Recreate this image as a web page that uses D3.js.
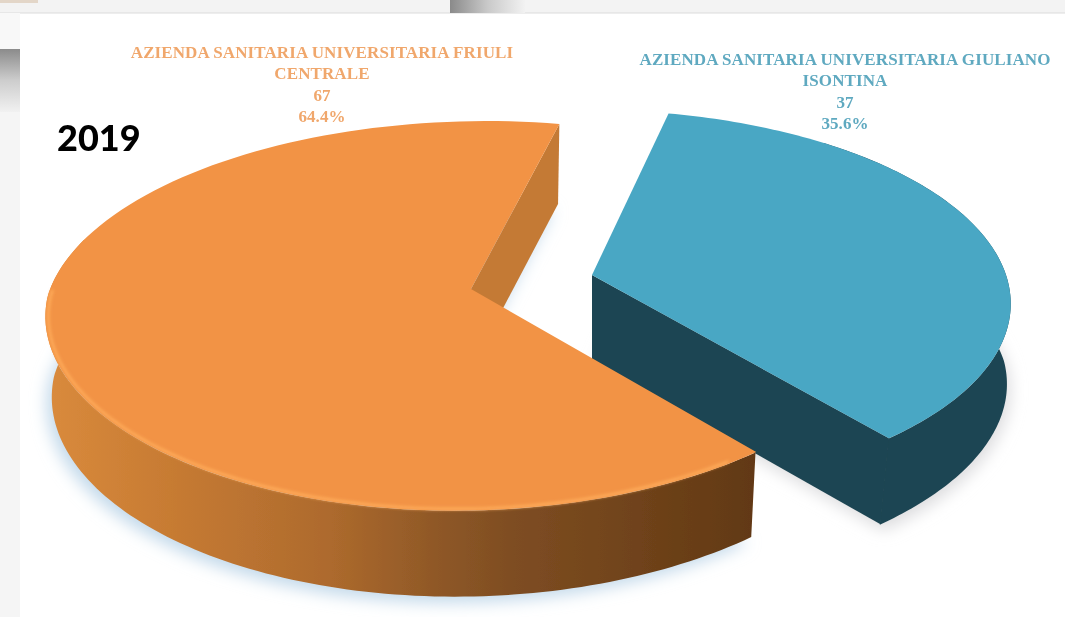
<!DOCTYPE html>
<html><head><meta charset="utf-8">
<script src="https://cdn.jsdelivr.net/npm/d3@7"></script>
<style>html,body{margin:0;padding:0;background:#fff;overflow:hidden}svg{display:block}</style>
</head><body><div id="chart"></div>
<script>
const categories = ["AZIENDA SANITARIA UNIVERSITARIA GIULIANO ISONTINA", "AZIENDA SANITARIA UNIVERSITARIA FRIULI CENTRALE"];
const labelLines = [["AZIENDA SANITARIA UNIVERSITARIA GIULIANO", "ISONTINA"], ["AZIENDA SANITARIA UNIVERSITARIA FRIULI", "CENTRALE"]];
const values = [37, 67];
const percents = ["35.6%", "64.4%"];
const yearLabel = "2019";

const W = 1065, H = 617;
const deg = Math.PI / 180;
const svg = d3.select("#chart").append("svg").attr("width", W).attr("height", H).attr("viewBox", [0, 0, W, H]);
const defs = svg.append("defs");
const blur = (id, s) => defs.append("filter").attr("id", id).attr("x", "-20%").attr("y", "-20%").attr("width", "140%").attr("height", "140%")
  .append("feGaussianBlur").attr("stdDeviation", s);
blur("shadow", 8); blur("soft", 0.7); blur("hl", 1.4); blur("ink", 0.55);
const grad = (id, x1, x2, stops) => {
  const g = defs.append("linearGradient").attr("id", id).attr("gradientUnits", "userSpaceOnUse")
    .attr("x1", x1[0]).attr("y1", x1[1]).attr("x2", x2[0]).attr("y2", x2[1]);
  stops.forEach(([o, c]) => g.append("stop").attr("offset", o).attr("stop-color", c));
};
grad("sideOrange", [50, 0], [752, 0], [[0, "#d98a3c"], [0.17, "#c77b33"], [0.4, "#ad6a2d"], [0.55, "#8f5827"], [0.66, "#7e4d22"], [1, "#623913"]]);
grad("barTop", [450, 0], [525, 0], [[0, "#8a8a8a"], [0.5, "#c9c9c9"], [1, "#f2f2f2"]]);
grad("barLeft", [0, 49], [0, 112], [[0, "#8b8b8b"], [0.5, "#cdcdcd"], [1, "#f1f1f1"]]);

// page background fragments of the screenshot
svg.append("rect").attr("width", W).attr("height", H).attr("fill", "#fff");
svg.append("rect").attr("width", W).attr("height", 13).attr("fill", "#f3f3f3");
svg.append("rect").attr("y", 12.5).attr("width", W).attr("height", 1).attr("fill", "#dcdcdc");
svg.append("rect").attr("x", 450).attr("width", 75).attr("height", 13).attr("fill", "url(#barTop)");
svg.append("rect").attr("width", 38).attr("height", 3).attr("fill", "#e3d6c8");
svg.append("rect").attr("y", 13).attr("width", 20).attr("height", H).attr("fill", "#f8f8f8");
svg.append("rect").attr("y", 49).attr("width", 20).attr("height", 63).attr("fill", "url(#barLeft)");
svg.append("rect").attr("y", 112).attr("width", 20).attr("height", H - 112).attr("fill", "#f5f5f5");

// perspective projection of the pie disc
const k = -0.138;
const slices = [
  { cx: 592, cy: 275, R: 414, S: 188, rot: -1, shear: 5, tilt: 0, taper: 0, shrink: v => 0.995 - 0.03 * Math.max(0, v), d0: 86, d1: 0,
    top: "#48a7c4", side: "#1d4552", wall: "#1d4552", text: "#5fa9c0", tx: 845, ty: 65, shadow: "#dcdcde", front: [40, 142] },
  { cx: 471, cy: 289, R: 423, S: 191, rot: -0.5, shear: -3, tilt: -6, taper: 0.035, shrink: () => 0.985, d0: 80, d1: 6,
    top: "#f29345", side: "url(#sideOrange)", wall: "#c47a35", text: "#f0a76c", tx: 322, ty: 58, shadow: "#c3d9ea", front: [142, 288] }
];
const pie = d3.pie().sort(null).startAngle(13.8 * deg).endAngle(373.8 * deg);
const arcs = pie(values);

function proj(s, a, r = 1) {
  const t = a + s.rot * deg;
  const u = r * Math.sin(t), v = -r * Math.cos(t), w = 1 + k * v;
  return { x: s.cx + (s.R * u * (1 - s.taper * Math.max(0, v)) + s.shear * v) / w, y: s.cy + (s.S * v + s.tilt * u) / w, v };
}
function under(s, p) {
  return { x: s.cx + (p.x - s.cx) * s.shrink(p.v), y: p.y + s.d0 + Math.max(0, p.v) * s.d1, v: p.v };
}
const sample = (a0, a1) => d3.range(0, 121).map(i => a0 + (a1 - a0) * i / 120);
const line = d3.line().x(d => d.x).y(d => d.y);
const closed = pts => line(pts) + "Z";

const layers = svg.append("g").attr("filter", "url(#soft)");

// soft ground shadows
arcs.forEach((d, i) => {
  const s = slices[i];
  const pts = [under(s, proj(s, 0, 0)), ...sample(d.startAngle, d.endAngle).map(a => under(s, proj(s, a)))];
  svg.insert("path", "g").attr("d", closed(pts)).attr("fill", s.shadow)
    .attr("transform", i ? "translate(-5,6)" : "translate(3,6)").attr("filter", "url(#shadow)");
});

// slices: blue first so the orange top overlaps its dark wall
arcs.forEach((d, i) => {
  const s = slices[i];
  const apex = proj(s, 0, 0);
  const g = layers.append("g");
  const front = sample(s.front[0] * deg, s.front[1] * deg).map(a => proj(s, a));
  g.append("path").attr("d", closed([...front, ...front.map(p => under(s, p)).reverse()])).attr("fill", s.side);
  // inner wall facing the viewer
  const corner = proj(s, d.endAngle);
  g.append("path").attr("d", closed([apex, corner, under(s, corner), under(s, apex)])).attr("fill", s.wall);
  const rim = sample(d.startAngle, d.endAngle).map(a => proj(s, a));
  g.append("path").attr("d", closed([apex, ...rim])).attr("fill", s.top);
  if (i === 1) {
    const hl = sample(146 * deg, 272 * deg).map(a => proj(s, a, 0.993));
    g.append("path").attr("d", line(hl)).attr("fill", "none").attr("stroke", "#ffad5c").attr("stroke-width", 2.5).attr("filter", "url(#hl)");
  }
});

// labels
const labels = svg.append("g").attr("filter", "url(#ink)").attr("text-anchor", "middle")
  .attr("font-family", "'Liberation Serif', serif").attr("font-weight", 700).attr("font-size", 17).attr("letter-spacing", 0.1);
arcs.forEach((d, i) => {
  const s = slices[i];
  const rows = [...labelLines[i], String(values[i]), percents[i]];
  labels.selectAll(null).data(rows).join("text")
    .attr("x", s.tx).attr("y", (r, j) => s.ty + j * 21.3)
    .attr("fill", s.text).text(r => r);
});
svg.append("text").attr("x", 57).attr("y", 151).attr("font-family", "Lato, sans-serif").attr("font-weight", 900)
  .attr("font-size", 36).attr("fill", "#000").attr("filter", "url(#ink)").text(yearLabel);
</script></body></html>
